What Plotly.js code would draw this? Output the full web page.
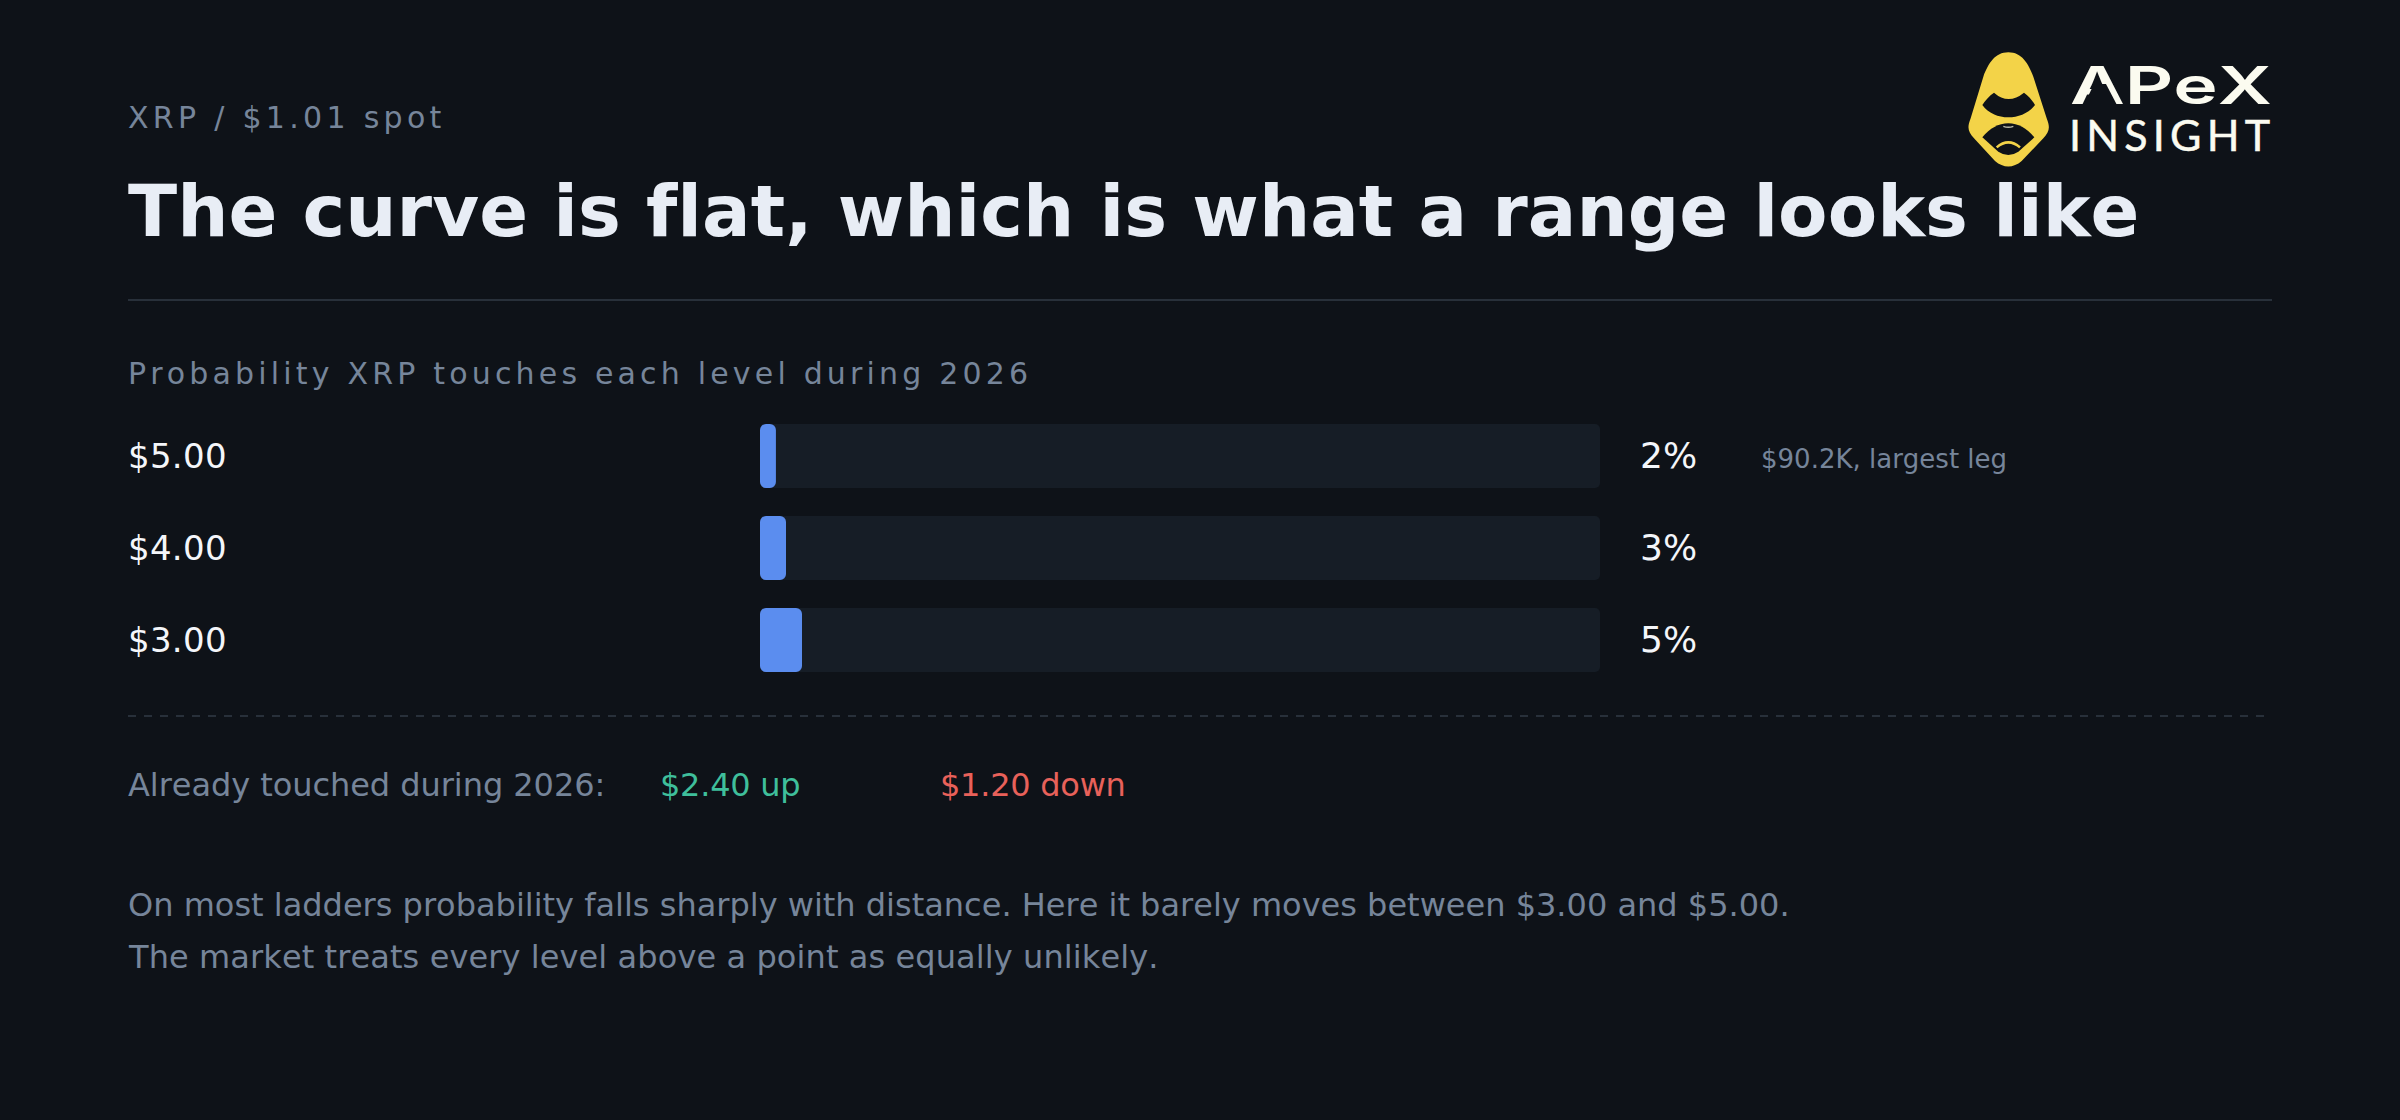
<!DOCTYPE html>
<html><head><meta charset="utf-8">
<script src="https://cdn.plot.ly/plotly-3.0.1.min.js"></script>
<style>html,body{margin:0;padding:0;background:#0e1218;overflow:hidden}#chart{width:2400px;height:1120px}
.annotation-text{font-kerning:none}</style>
</head><body><div id="chart"></div>
<script>
const levels = ['$5.00','$4.00','$3.00'];
const probabilities = [1.9,3.1,5.0];
const probabilityLabels = ['2%','3%','5%'];
const trackValues = [100,100,100];
const legNote = '$90.2K, largest leg';

const BG='#0e1218', TRACK='#161d26', BLUE='#5b8def', GREY='#76859a', WHITE='#f4f6fa', TITLE='#e8edf5',
      GREEN='#3fbf9b', RED='#e8615a', RULE='#28303a', YEL='#f3d348', LOGO='#fbfbf0';
const W=2400,H=1120, FONT='"DejaVu Sans", sans-serif';
const px=x=>x/W, py=y=>1-y/H;

const HEADLINE='The curve is flat, which is what a range looks like';
const EYEBROW='XRP / $1.01 spot', SECTION='Probability XRP touches each level during 2026';
const TOUCHED='Already touched during 2026:', UP='$2.40 up', DOWN='$1.20 down';
const BODY1='On most ladders probability falls sharply with distance. Here it barely moves between $3.00 and $5.00.';
const BODY2='The market treats every level above a point as equally unlikely.';

function text(t,x,y,size,color,opts={}){
  return Object.assign({text:t,xref:'paper',yref:'paper',x:px(x),y:py(y),xanchor:'left',yanchor:'middle',align:'left',
    showarrow:false,borderpad:0,font:{family:FONT,size:size,color:color}},opts);
}
const annotations=[
  text(EYEBROW,126.5,118,30,GREY),
  text(HEADLINE,126.5,211,72,TITLE,{font:{family:FONT,size:72,color:TITLE,weight:700}}),
  text(SECTION,126.5,373,30,GREY),
  text(TOUCHED,126.5,785,32,GREY),
  text(UP,658.5,785,32,GREEN),
  text(DOWN,938.5,785,32,RED),
  text(BODY1,126.5,905,32,GREY),
  text(BODY2,126.5,957,32,GREY),
  text(legNote,1759.5,459,26,GREY),
  text('APeX',2069,86,52,LOGO,{font:{family:'Inter, sans-serif',size:52,color:LOGO,weight:600}}),
  text('INSIGHT',2068,134,43,LOGO,{font:{family:'Lato, sans-serif',size:43,color:LOGO}})
];
levels.forEach((l,i)=>{
  annotations.push(text(l,126.5,0,34,WHITE,{yref:'y',y:l}));
  annotations.push(text(probabilityLabels[i],1638.5,0,36,WHITE,{yref:'y',y:l,yshift:1}));
});

// logo drawn in zoom-crop coordinates (1900+x/3, 30+y/3)
const lg=d=>d.replace(/(-?[\d.]+),(-?[\d.]+)/g,(m,a,b)=>px(1900+a/3)+','+py(30+b/3));
const shapes=[
  {type:'line',xref:'paper',yref:'paper',x0:px(128),x1:px(2272),y0:py(300),y1:py(300),line:{color:RULE,width:2}},
  {type:'line',xref:'paper',yref:'paper',x0:px(128),x1:px(2264),y0:py(716),y1:py(716),line:{color:RULE,width:2,dash:'8px,8px'}},
  {type:'path',xref:'paper',yref:'paper',fillcolor:YEL,line:{width:0},path:lg('M325,67 C365,67 385,100 400,140 L440,265 C452,295 447,305 430,325 L365,393 C340,415 310,415 285,393 L222,325 C205,305 200,295 212,265 L250,140 C265,100 285,67 325,67 Z')},
  {type:'path',xref:'paper',yref:'paper',fillcolor:BG,line:{width:0},path:lg('M282,188 Q325,226 372,188 C385,197 398,212 405,225 C385,250 355,262 325,262 C295,262 265,250 247,225 C255,212 268,197 282,188 Z')},
  {type:'path',xref:'paper',yref:'paper',fillcolor:BG,line:{width:0},path:lg('M247,322 C270,295 295,280 325,280 C355,280 380,295 403,322 L355,365 Q325,385 295,365 Z')},
  {type:'path',xref:'paper',yref:'paper',line:{color:YEL,width:2.5},path:lg('M290,352 Q325,322 360,352')},
  {type:'path',xref:'paper',yref:'paper',line:{color:'#b9b9a8',width:1.5},path:lg('M310,289 Q325,295 340,289')}
];

const traces=[
  {type:'bar',orientation:'h',y:levels,x:trackValues,width:64/92,marker:{color:TRACK,line:{width:0}},hoverinfo:'skip'},
  {type:'bar',orientation:'h',y:levels,x:probabilities,width:64/92,marker:{color:BLUE,line:{width:0}},hoverinfo:'skip'}
];
const layout={
  width:W,height:H,margin:{l:0,r:0,t:0,b:0},paper_bgcolor:BG,plot_bgcolor:BG,barmode:'overlay',showlegend:false,
  xaxis:{domain:[760/W,1600/W],range:[0,100],visible:false,fixedrange:true},
  yaxis:{domain:[1-686/H,1-410/H],type:'category',categoryorder:'array',categoryarray:levels,range:[2.5,-0.5],visible:false,fixedrange:true},
  annotations,shapes
};
const spacing={[EYEBROW]:4.3,[SECTION]:4.18,'INSIGHT':5.2,[HEADLINE]:0.06,[BODY2]:0.094,[TOUCHED]:-0.054,[UP]:-0.25,[DOWN]:-0.25,
  [levels[0]]:0.3,[levels[1]]:0.3,[levels[2]]:0.3};
const stretch={'APeX':202};
Plotly.newPlot('chart',traces,layout,{displayModeBar:false,staticPlot:true}).then(gd=>{
  gd.querySelectorAll('.annotation-text').forEach(t=>{
    const u=t.getAttribute('data-unformatted');
    if(spacing[u]) t.style.letterSpacing=spacing[u]+'px';
    if(stretch[u]){
      t.setAttribute('textLength',stretch[u]);t.setAttribute('lengthAdjust','spacingAndGlyphs');
      // the logo's A has no crossbar: cover it with the background colour
      const m=document.createElementNS('http://www.w3.org/2000/svg','polygon');
      m.setAttribute('points','2094,84 2106,84 2118,107 2083,107');m.setAttribute('fill',BG);
      t.closest('.annotation').parentNode.appendChild(m);
    }
    if(u==='INSIGHT'){t.style.stroke=LOGO;t.style.strokeWidth='0.5px';}
  });
  const radii=[5,6];
  gd.querySelectorAll('.barlayer .trace.bars').forEach((tr,i)=>{
    tr.querySelectorAll('.point path').forEach(p=>{p.style.clipPath='inset(0 round '+radii[i]+'px)';});
  });
});
</script></body></html>
